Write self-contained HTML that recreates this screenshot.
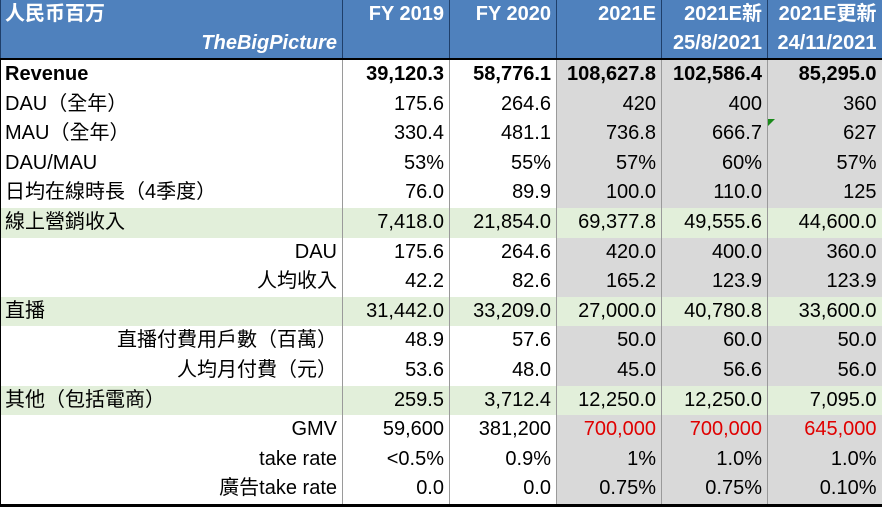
<!DOCTYPE html>
<html><head><meta charset="utf-8">
<style>
body{margin:0;width:883px;height:508px;overflow:hidden;background:#fff;font-family:"Liberation Sans","Noto Sans CJK TC",sans-serif;}
table{position:absolute;left:0;top:0;border-collapse:collapse;table-layout:fixed;width:881px;}
td{padding:0 5px 0 4px;font-size:20px;color:#000;text-align:right;white-space:nowrap;overflow:hidden;border-left:1px solid #9a9a9a;height:29.6px;line-height:29.6px;}
td:first-child{text-align:left;border-left:1px solid #000;}
tr.h td{background:#4F81BD;color:#fff;font-weight:bold;height:29px;line-height:29px;border-left:1px solid #1f3f6a;}
tr.h2 td{border-bottom:2px solid #000;}
td.g{background:#D9D9D9;}
tr.gr td{background:#E2EFDA;}
td.r{color:#e00000;}
.b td{font-weight:bold;}
.ind{text-align:right !important;}
.last td{border-bottom:3px solid #000;}
</style></head><body>
<table>
<colgroup><col style="width:342px"><col style="width:107px"><col style="width:107px"><col style="width:105px"><col style="width:106px"><col style="width:114px"></colgroup>
<tr class="h"><td>人民币百万</td><td>FY 2019</td><td>FY 2020</td><td>2021E</td><td>2021E新</td><td>2021E更新</td></tr>
<tr class="h h2"><td style="text-align:right;font-style:italic">TheBigPicture</td><td></td><td></td><td></td><td>25/8/2021</td><td>24/11/2021</td></tr>
<tr class="b"><td>Revenue</td><td>39,120.3</td><td>58,776.1</td><td class="g">108,627.8</td><td class="g">102,586.4</td><td class="g">85,295.0</td></tr>
<tr><td>DAU（全年）</td><td>175.6</td><td>264.6</td><td class="g">420</td><td class="g">400</td><td class="g">360</td></tr>
<tr><td>MAU（全年）</td><td>330.4</td><td>481.1</td><td class="g">736.8</td><td class="g">666.7</td><td class="g" style="position:relative"><span style="position:absolute;left:0;top:0;width:0;height:0;border-top:7px solid #1a8a1a;border-right:7px solid transparent"></span>627</td></tr>
<tr><td>DAU/MAU</td><td>53%</td><td>55%</td><td class="g">57%</td><td class="g">60%</td><td class="g">57%</td></tr>
<tr><td>日均在線時長（4季度）</td><td>76.0</td><td>89.9</td><td class="g">100.0</td><td class="g">110.0</td><td class="g">125</td></tr>
<tr class="gr"><td>線上營銷收入</td><td>7,418.0</td><td>21,854.0</td><td>69,377.8</td><td>49,555.6</td><td>44,600.0</td></tr>
<tr><td class="ind">DAU</td><td>175.6</td><td>264.6</td><td class="g">420.0</td><td class="g">400.0</td><td class="g">360.0</td></tr>
<tr><td class="ind">人均收入</td><td>42.2</td><td>82.6</td><td class="g">165.2</td><td class="g">123.9</td><td class="g">123.9</td></tr>
<tr class="gr"><td>直播</td><td>31,442.0</td><td>33,209.0</td><td>27,000.0</td><td>40,780.8</td><td>33,600.0</td></tr>
<tr><td class="ind">直播付費用戶數（百萬）</td><td>48.9</td><td>57.6</td><td class="g">50.0</td><td class="g">60.0</td><td class="g">50.0</td></tr>
<tr><td class="ind">人均月付費（元）</td><td>53.6</td><td>48.0</td><td class="g">45.0</td><td class="g">56.6</td><td class="g">56.0</td></tr>
<tr class="gr"><td>其他（包括電商）</td><td>259.5</td><td>3,712.4</td><td>12,250.0</td><td>12,250.0</td><td>7,095.0</td></tr>
<tr><td class="ind">GMV</td><td>59,600</td><td>381,200</td><td class="g r">700,000</td><td class="g r">700,000</td><td class="g r">645,000</td></tr>
<tr><td class="ind">take rate</td><td>&lt;0.5%</td><td>0.9%</td><td class="g">1%</td><td class="g">1.0%</td><td class="g">1.0%</td></tr>
<tr class="last"><td class="ind">廣告take rate</td><td>0.0</td><td>0.0</td><td class="g">0.75%</td><td class="g">0.75%</td><td class="g">0.10%</td></tr>
</table>
</body></html>
